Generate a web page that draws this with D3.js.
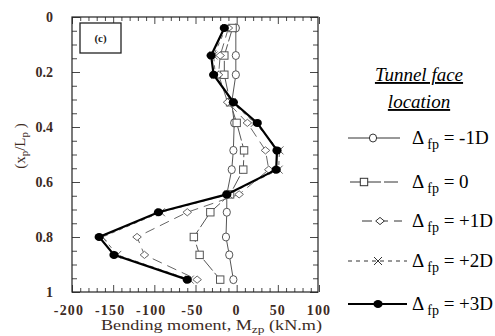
<!DOCTYPE html>
<html>
<head>
<meta charset="utf-8">
<script src="https://cdn.jsdelivr.net/npm/d3@7"></script>
<style>
  body { margin: 0; background: #fff; }
  svg { display: block; font-family: "Liberation Serif", "Times New Roman", serif; }
</style>
</head>
<body>
<script>
const width = 495;
const height = 336;

// depth ratio xp/Lp of each gauge
const depth = [0.04, 0.14, 0.21, 0.31, 0.385, 0.485, 0.555, 0.645, 0.71, 0.80, 0.865, 0.955];
// bending moment (kN.m) per tunnel face location
const mMinus1D = [-1, -1, -1, -6, -3, -4, -6, -12, -12, -13, -9, -4];
const mZero = [-5, -15, -15, -8, 0, 9, 8, -8, -32, -52, -45, -20];
const mPlus1D = [-10, -20, -22, -11, 13, 35, 39, 3, -60, -121, -112, -48];
const mPlus2D = [-13, -28, -26, -6, 22, 52, 51, -10, -92, -163, -145, -57];
const mPlus3D = [-15, -31, -28, -4, 25, 49, 48, -12, -95, -167, -149, -60];

const legendLabels = ['-1D', '0', '+1D', '+2D', '+3D'];
const xTicks = [-200, -150, -100, -50, 0, 50, 100];
const yTicks = [0, 0.2, 0.4, 0.6, 0.8, 1];

const brown = '#3d2b1f';
const margin = { top: 17, right: 177, bottom: 44, left: 72 };

const svg = d3.select('body').append('svg')
    .attr('width', width)
    .attr('height', height);

const xScale = d3.scaleLinear()
    .domain([-200, 100])
    .range([margin.left, width - margin.right + 1]);
const yScale = d3.scaleLinear()
    .domain([0, 1])
    .range([margin.top, height - margin.bottom]);

const x0 = margin.left, x1 = width - margin.right;
const y0 = margin.top, y1 = height - margin.bottom;

// ticks pointing inward on all four sides
const xMinor = d3.range(-200, 101, 10).filter(v => v % 50 !== 0);
const xMajor = d3.range(-200, 101, 50);
const yMinor = d3.range(0, 1.001, 0.05).filter(v => Math.abs(v * 5 - Math.round(v * 5)) > 0.01);

const addAxis = (axis, tf, size) => {
    const g = svg.append('g').attr('transform', tf).call(axis.tickSize(size).tickFormat(''));
    g.select('.domain').remove();
    g.selectAll('line').attr('stroke', '#333').attr('stroke-width', 0.9);
};
addAxis(d3.axisTop(xScale).tickValues(xMinor), `translate(0,${y1})`, 4);
addAxis(d3.axisTop(xScale).tickValues(xMajor), `translate(0,${y1})`, 7);
addAxis(d3.axisBottom(xScale).tickValues(xMinor), `translate(0,${y0})`, 4);
addAxis(d3.axisBottom(xScale).tickValues(xMajor), `translate(0,${y0})`, 7);
addAxis(d3.axisRight(yScale).tickValues(yMinor), `translate(${x0},0)`, 5);
addAxis(d3.axisRight(yScale).tickValues(yTicks), `translate(${x0},0)`, 8);
addAxis(d3.axisLeft(yScale).tickValues(yMinor), `translate(${x1},0)`, 5);
addAxis(d3.axisLeft(yScale).tickValues(yTicks), `translate(${x1},0)`, 8);

svg.append('rect')
    .attr('x', x0).attr('y', y0)
    .attr('width', x1 - x0).attr('height', y1 - y0)
    .attr('fill', 'none').attr('stroke', '#222').attr('stroke-width', 1.2);

// tick labels
svg.append('g').selectAll('text').data(xTicks).enter().append('text')
    .attr('x', d => xScale(d) + (d < 0 ? -3 : 0))
    .attr('y', 315)
    .attr('text-anchor', 'middle')
    .attr('font-size', 14).attr('font-weight', 'bold').attr('fill', brown)
    .attr('letter-spacing', 1.2)
    .text(d => d);
svg.append('g').selectAll('text').data(yTicks).enter().append('text')
    .attr('x', 53)
    .attr('y', d => yScale(d) + 5)
    .attr('text-anchor', 'end')
    .attr('font-size', 14).attr('font-weight', 'bold').attr('fill', brown)
    .text(d => d);

// axis titles
const xt = svg.append('text')
    .attr('x', 101).attr('y', 330)
    .attr('textLength', 221).attr('lengthAdjust', 'spacingAndGlyphs')
    .attr('font-size', 15).attr('fill', brown);
xt.append('tspan').text('Bending moment, M');
xt.append('tspan').attr('dy', 3).attr('font-size', 11).text('zp');
xt.append('tspan').attr('dy', -3).text(' (kN.m)');

const yt = svg.append('text')
    .attr('transform', 'translate(25,146) rotate(-90)')
    .attr('text-anchor', 'middle')
    .attr('font-size', 15).attr('fill', brown);
yt.append('tspan').text('(x');
yt.append('tspan').attr('dy', 3).attr('font-size', 11).text('p');
yt.append('tspan').attr('dy', -3).text('/L');
yt.append('tspan').attr('dy', 3).attr('font-size', 11).text('p');
yt.append('tspan').attr('dy', -3).text(' )');

// panel tag
svg.append('rect')
    .attr('x', 80).attr('y', 23).attr('width', 41).attr('height', 30)
    .attr('fill', '#fff').attr('stroke', '#222').attr('stroke-width', 1.3);
svg.append('text')
    .attr('x', 100.5).attr('y', 42)
    .attr('text-anchor', 'middle')
    .attr('font-size', 11).attr('font-weight', 'bold').attr('fill', '#222')
    .text('(c)');

// series definitions
const series = [
    { values: mMinus1D, marker: 'circle', dash: null, width: 1, color: '#555' },
    { values: mZero, marker: 'square', dash: '14,3', width: 1, color: '#555' },
    { values: mPlus1D, marker: 'diamond', dash: '10,6', width: 1, color: '#666' },
    { values: mPlus2D, marker: 'cross', dash: '4,4', width: 1, color: '#666' },
    { values: mPlus3D, marker: 'dot', dash: null, width: 2.2, color: '#000' }
];

const line = d3.line()
    .x(d => xScale(d[0]))
    .y(d => yScale(d[1]));

const drawMarker = (g, type, cx, cy, color) => {
    if (type === 'circle') {
        g.append('ellipse').attr('cx', cx).attr('cy', cy).attr('rx', 3.6).attr('ry', 4)
            .attr('fill', '#fff').attr('stroke', color).attr('stroke-width', 1);
    } else if (type === 'square') {
        g.append('rect').attr('x', cx - 3.7).attr('y', cy - 3.7).attr('width', 7.4).attr('height', 7.4)
            .attr('fill', '#fff').attr('stroke', color).attr('stroke-width', 1);
    } else if (type === 'diamond') {
        g.append('path').attr('d', `M${cx - 4.3},${cy}L${cx},${cy - 3.6}L${cx + 4.3},${cy}L${cx},${cy + 3.6}Z`)
            .attr('fill', '#fff').attr('stroke', color).attr('stroke-width', 1);
    } else if (type === 'cross') {
        g.append('path').attr('d', `M${cx - 4},${cy - 4}L${cx + 4},${cy + 4}M${cx - 4},${cy + 4}L${cx + 4},${cy - 4}`)
            .attr('stroke', color).attr('stroke-width', 1);
    } else {
        g.append('ellipse').attr('cx', cx).attr('cy', cy).attr('rx', 4.6).attr('ry', 4)
            .attr('fill', '#000');
    }
};

series.forEach(s => {
    const pts = s.values.map((v, i) => [v, depth[i]]);
    const g = svg.append('g');
    g.append('path')
        .attr('d', line(pts))
        .attr('fill', 'none')
        .attr('stroke', s.color)
        .attr('stroke-width', s.width)
        .attr('stroke-dasharray', s.dash);
    pts.forEach(p => drawMarker(g, s.marker, xScale(p[0]), yScale(p[1]), s.color));
});

// legend
const lg = svg.append('g');
lg.append('text')
    .attr('x', 419).attr('y', 81)
    .attr('text-anchor', 'middle')
    .attr('font-size', 19).attr('font-style', 'italic').attr('text-decoration', 'underline')
    .text('Tunnel face');
lg.append('text')
    .attr('x', 419).attr('y', 108)
    .attr('text-anchor', 'middle')
    .attr('font-size', 19).attr('font-style', 'italic').attr('text-decoration', 'underline')
    .text('location');

const legendRows = [138, 182, 221, 261, 304];
const legendLine = [[348, 400], [350, 400], [362, 402], [348, 407], [348, 407]];
const legendMark = [373, 364, 380, 378, 378];
series.forEach((s, i) => {
    const y = legendRows[i];
    lg.append('line')
        .attr('x1', legendLine[i][0]).attr('x2', legendLine[i][1])
        .attr('y1', y).attr('y2', y)
        .attr('stroke', s.color === '#000' ? '#000' : '#333')
        .attr('stroke-width', s.width)
        .attr('stroke-dasharray', s.dash);
    drawMarker(lg, s.marker, legendMark[i], y, '#333');
    const t = lg.append('text')
        .attr('x', 412).attr('y', y + 6)
        .attr('font-size', 19);
    t.append('tspan').text('Δ');
    t.append('tspan').attr('dx', 3).attr('dy', 5).attr('font-size', 14).text('fp');
    t.append('tspan').attr('dy', -5).text(' = ' + legendLabels[i]);
});
</script>
</body>
</html>
